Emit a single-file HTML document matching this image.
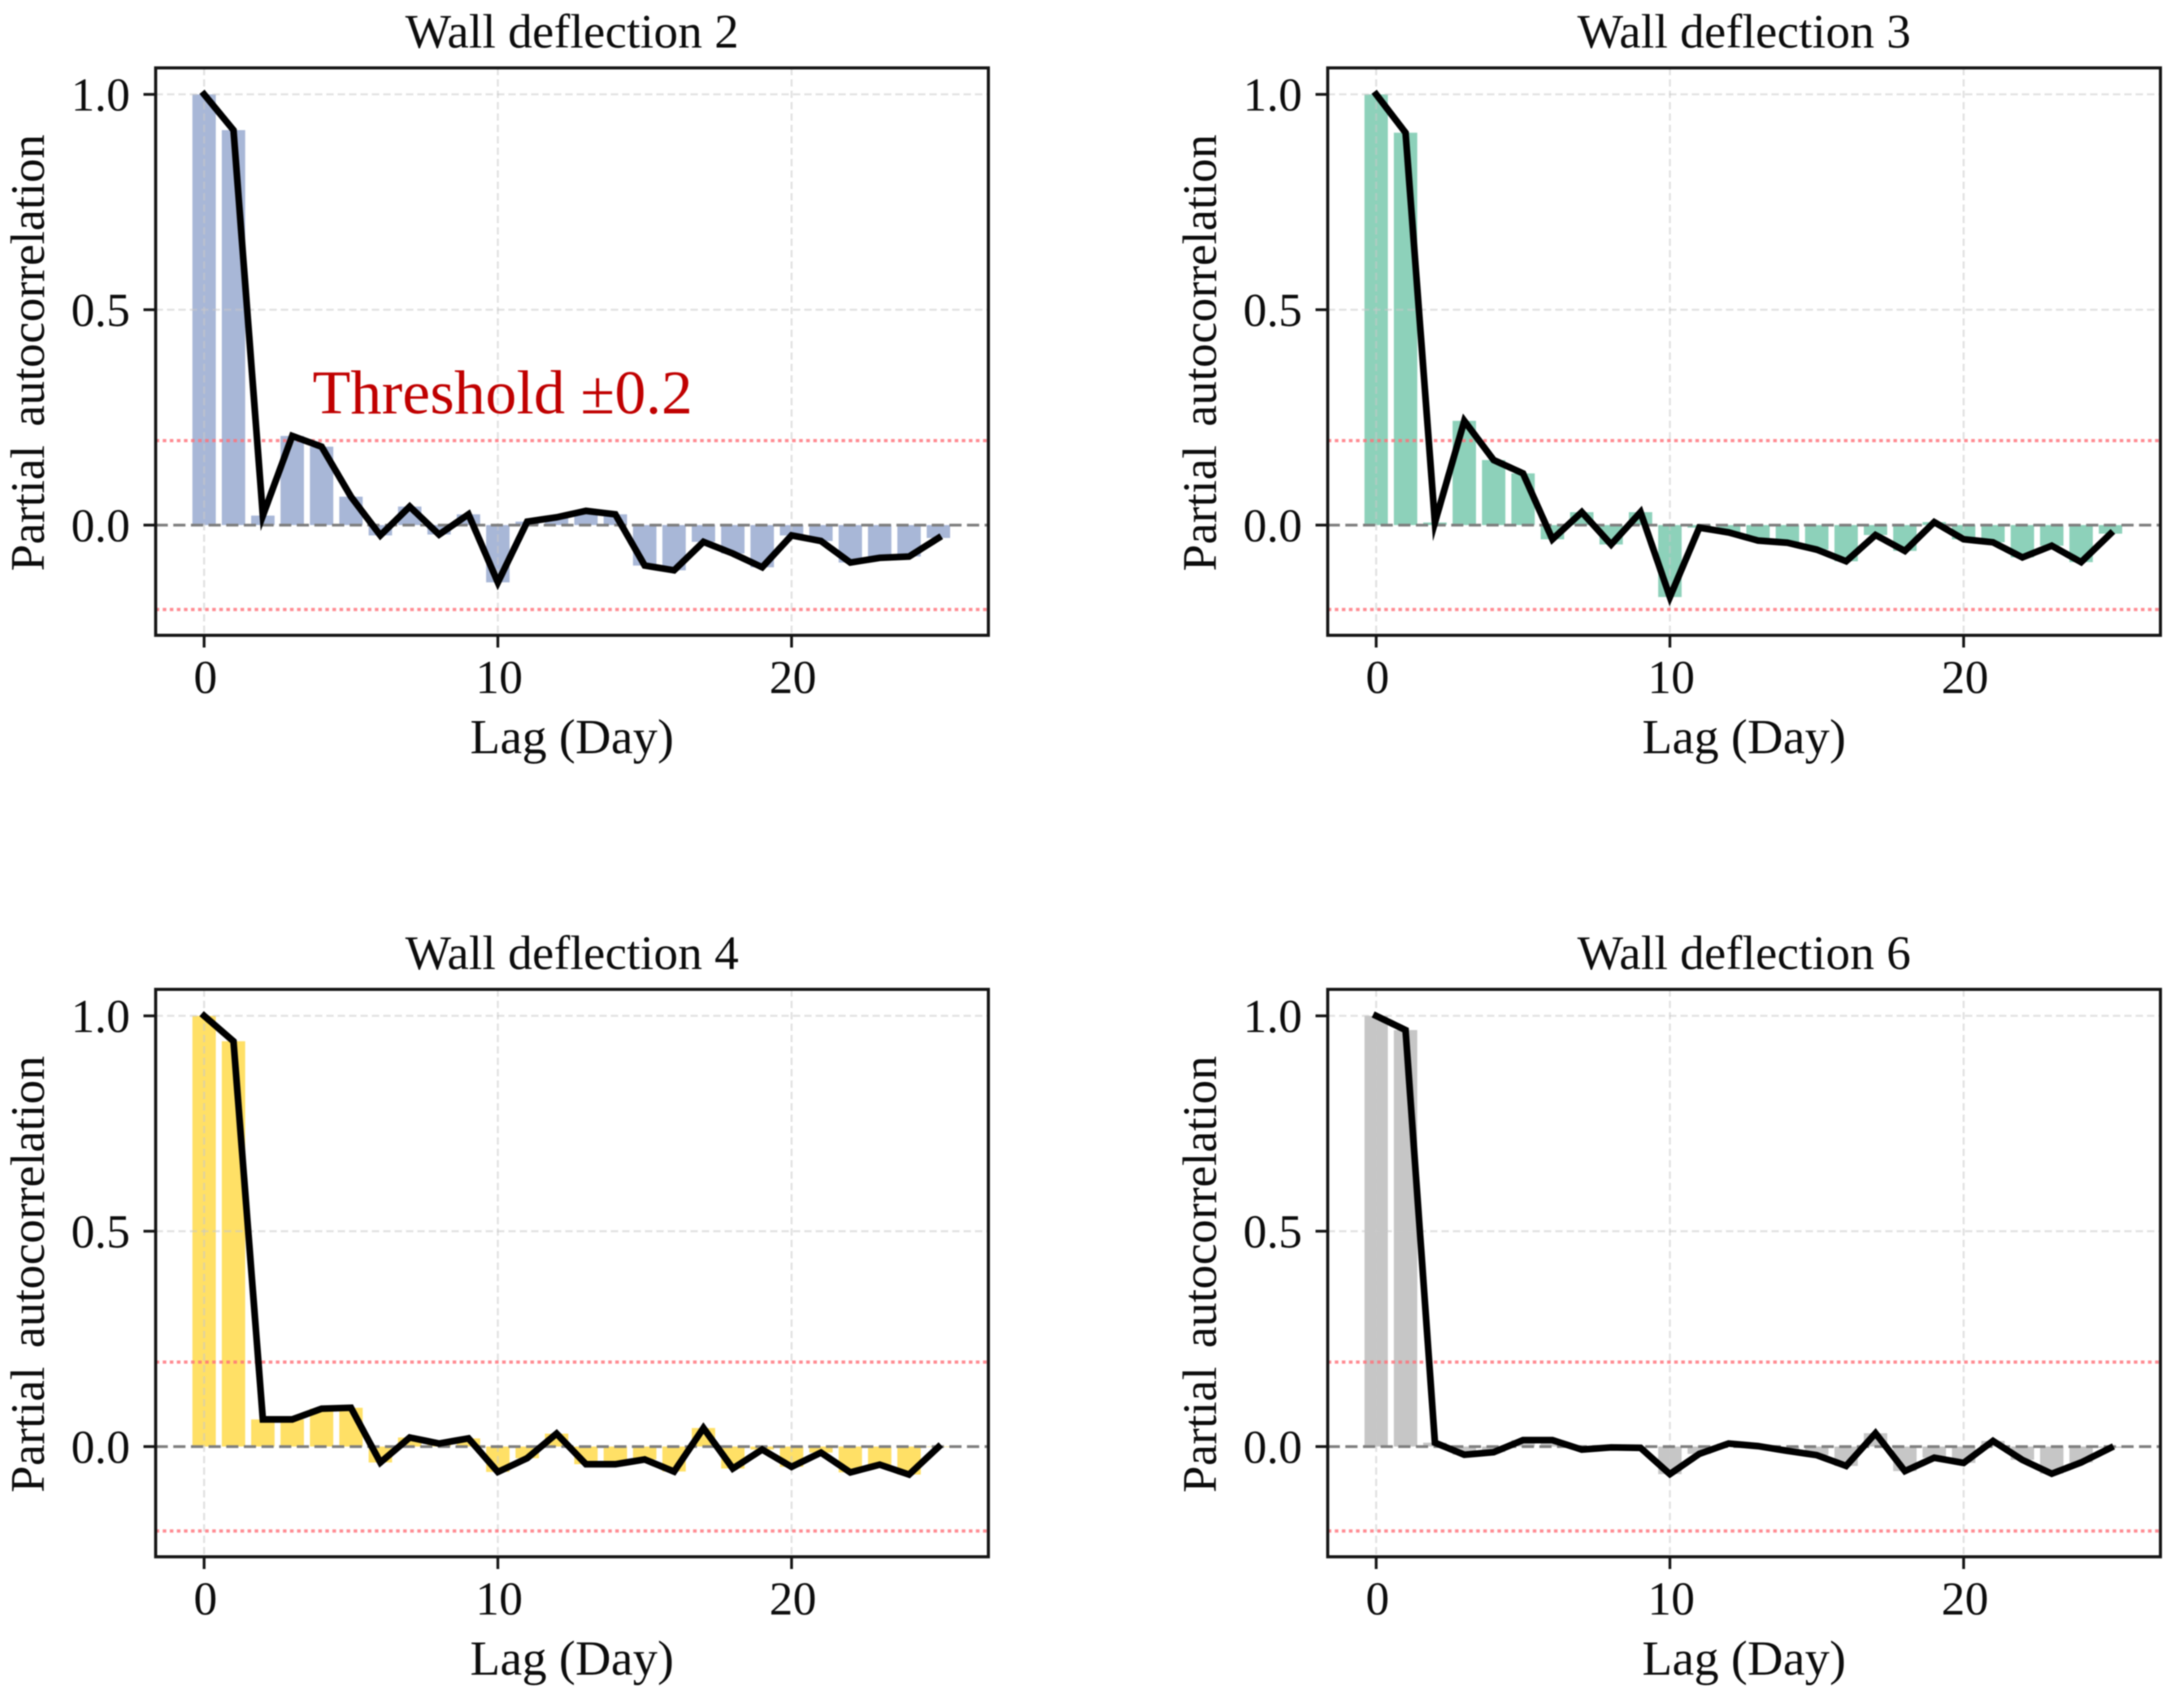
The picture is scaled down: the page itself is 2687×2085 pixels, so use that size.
<!DOCTYPE html>
<html lang="en">
<head>
<meta charset="utf-8">
<title>Partial autocorrelation of wall deflection</title>
<style>
html,body{margin:0;padding:0;background:#fff;}
#figure{display:block;width:2687px;height:2085px;filter:blur(0.9px);}
text{font-family:"Liberation Serif",serif;fill:#0c0c0c;}
</style>
</head>
<body>
<svg id="figure" xmlns="http://www.w3.org/2000/svg" width="2687" height="2085" viewBox="0 0 2687 2085"></svg>
<script>
// ---- chart data ----
const lags = [0,1,2,3,4,5,6,7,8,9,10,11,12,13,14,15,16,17,18,19,20,21,22,23,24,25];
const xTickValues = [0,10,20];
const yTickValues = [1.0,0.5,0.0];
const thresholdValue = 0.196;
const panelTitles = ["Wall deflection 2","Wall deflection 3","Wall deflection 4","Wall deflection 6"];
const panelColors = ["#a8b7d7","#8dd1ba","#ffe066","#c6c6c6"];
const xAxisTitle = "Lag (Day)";
const yAxisTitle = "Partial autocorrelation";
const thresholdNote = "Threshold \u00b10.2";
const wallDeflection2 = [1,0.917,0.022,0.207,0.182,0.066,-0.024,0.043,-0.022,0.025,-0.133,0.008,0.018,0.033,0.025,-0.094,-0.105,-0.039,-0.066,-0.098,-0.024,-0.037,-0.087,-0.076,-0.073,-0.03];
const wallDeflection3 = [1,0.911,0.006,0.242,0.151,0.120,-0.033,0.03,-0.045,0.03,-0.167,-0.006,-0.017,-0.036,-0.041,-0.057,-0.084,-0.023,-0.06,0.007,-0.033,-0.04,-0.075,-0.048,-0.086,-0.02];
const wallDeflection4 = [1,0.941,0.063,0.063,0.088,0.09,-0.037,0.021,0.007,0.019,-0.059,-0.027,0.03,-0.041,-0.041,-0.03,-0.058,0.043,-0.051,-0.007,-0.047,-0.014,-0.06,-0.042,-0.065,-0.001];
const wallDeflection6 = [1,0.967,0.009,-0.019,-0.013,0.015,0.015,-0.007,-0.002,-0.003,-0.064,-0.017,0.007,0.001,-0.01,-0.02,-0.045,0.031,-0.057,-0.026,-0.038,0.013,-0.031,-0.063,-0.037,-0.003];
const panelSeries = [wallDeflection2,wallDeflection3,wallDeflection4,wallDeflection6];

// ---- layout ----
const svg = document.getElementById('figure');
const NS = 'http://www.w3.org/2000/svg';
const plotW = 1024.5, plotH = 698;
const xMin = -1.65, xMax = 26.7, yMin = -0.255, yMax = 1.0615;
const origins = [[191.5,83.5],[1633.5,83.5],[191.5,1217],[1633.5,1217]];

function make(tag, attrs, parent, content){
  const el = document.createElementNS(NS, tag);
  for (const k in attrs) el.setAttribute(k, attrs[k]);
  if (content !== undefined) el.textContent = content;
  parent.appendChild(el);
  return el;
}

panelTitles.forEach(function(title, p){
  const ox = origins[p][0], oy = origins[p][1];
  const sx = function(v){ return ox + (v - xMin) / (xMax - xMin) * plotW; };
  const sy = function(v){ return oy + (yMax - v) / (yMax - yMin) * 697.5; };
  const values = panelSeries[p];

  const g = make('g', {}, svg);
  
  

  // bars
  lags.forEach(function(lag, i){
    const top = Math.min(sy(values[i]), sy(0));
    const h = Math.abs(sy(values[i]) - sy(0));
    const bar = make('rect', {x: sx(lag) - 14.4, y: top, width: 28.8, height: h, fill: panelColors[p]}, g);
    
    
  });

  // grid
  xTickValues.forEach(function(v){
    const gl = make('line', {x1: sx(v), x2: sx(v), y1: oy, y2: oy + plotH, stroke: '#c8c8c8', 'stroke-opacity': 0.55, 'stroke-width': 2.4, 'stroke-dasharray': '9 5'}, g);
    
    
  });
  yTickValues.forEach(function(v){
    if (v === 0) return;
    const gl = make('line', {x1: ox, x2: ox + plotW, y1: sy(v), y2: sy(v), stroke: '#c8c8c8', 'stroke-opacity': 0.55, 'stroke-width': 2.4, 'stroke-dasharray': '9 5'}, g);
    
    
  });

  // zero reference
  const zero = make('line', {x1: ox, x2: ox + plotW, y1: sy(0), y2: sy(0), stroke: '#7d7d7d', 'stroke-width': 3.4, 'stroke-dasharray': '15 6.7'}, g);
  
  

  // thresholds
  [thresholdValue, -thresholdValue].forEach(function(t){
    const tl = make('line', {x1: ox, x2: ox + plotW, y1: sy(t), y2: sy(t), stroke: '#ff6f78', 'stroke-opacity': 0.8, 'stroke-width': 4, 'stroke-dasharray': '4.4 4.3'}, g);
    
    
  });

  // series line
  const pts = lags.map(function(lag, i){ return sx(lag).toFixed(2) + ',' + sy(values[i]).toFixed(2); }).join(' ');
  const line = make('polyline', {points: pts, fill: 'none', stroke: '#000', 'stroke-width': 8.2, 'stroke-linejoin': 'miter', 'stroke-linecap': 'square', 'stroke-miterlimit': 6}, g);
  
  

  // frame
  const frame = make('rect', {x: ox, y: oy, width: plotW, height: plotH, fill: 'none', stroke: '#141414', 'stroke-width': 3.8}, g);
  
  

  // x ticks
  xTickValues.forEach(function(v){
    const t = make('line', {x1: sx(v), x2: sx(v), y1: oy + plotH, y2: oy + plotH + 15, stroke: '#141414', 'stroke-width': 3.4}, g);
    
    
    const l = make('text', {x: sx(v) + 1.6, y: oy + plotH + 71, 'text-anchor': 'middle', 'font-size': 58}, g, String(v));
    
    
  });

  // y ticks
  yTickValues.forEach(function(v){
    const t = make('line', {x1: ox - 15, x2: ox, y1: sy(v), y2: sy(v), stroke: '#141414', 'stroke-width': 3.4}, g);
    
    
    const l = make('text', {x: ox - 31.5, y: sy(v) + 20, 'text-anchor': 'end', 'font-size': 58}, g, v.toFixed(1));
    
    
  });

  // titles
  const cx = ox + plotW / 2;
  const tt = make('text', {x: cx, y: oy - 25, 'text-anchor': 'middle', 'font-size': 59.8}, g, title);
  
  
  const xl = make('text', {x: cx, y: oy + plotH + 145, 'text-anchor': 'middle', 'font-size': 60.6}, g, xAxisTitle);
  
  
  const yx = ox - 137.5, yy = oy + 350.5;
  const yl = make('text', {x: yx, y: yy, 'text-anchor': 'middle', 'font-size': 59.4, 'word-spacing': 8, transform: 'rotate(-90 ' + yx + ' ' + yy + ')'}, g, yAxisTitle);
  
  

  if (p === 0) {
    const note = make('text', {x: 384.5, y: 508.5, 'font-size': 76.6, style: 'fill:#c00000'}, g, thresholdNote);
    
    
  }
});
</script>
</body>
</html>
